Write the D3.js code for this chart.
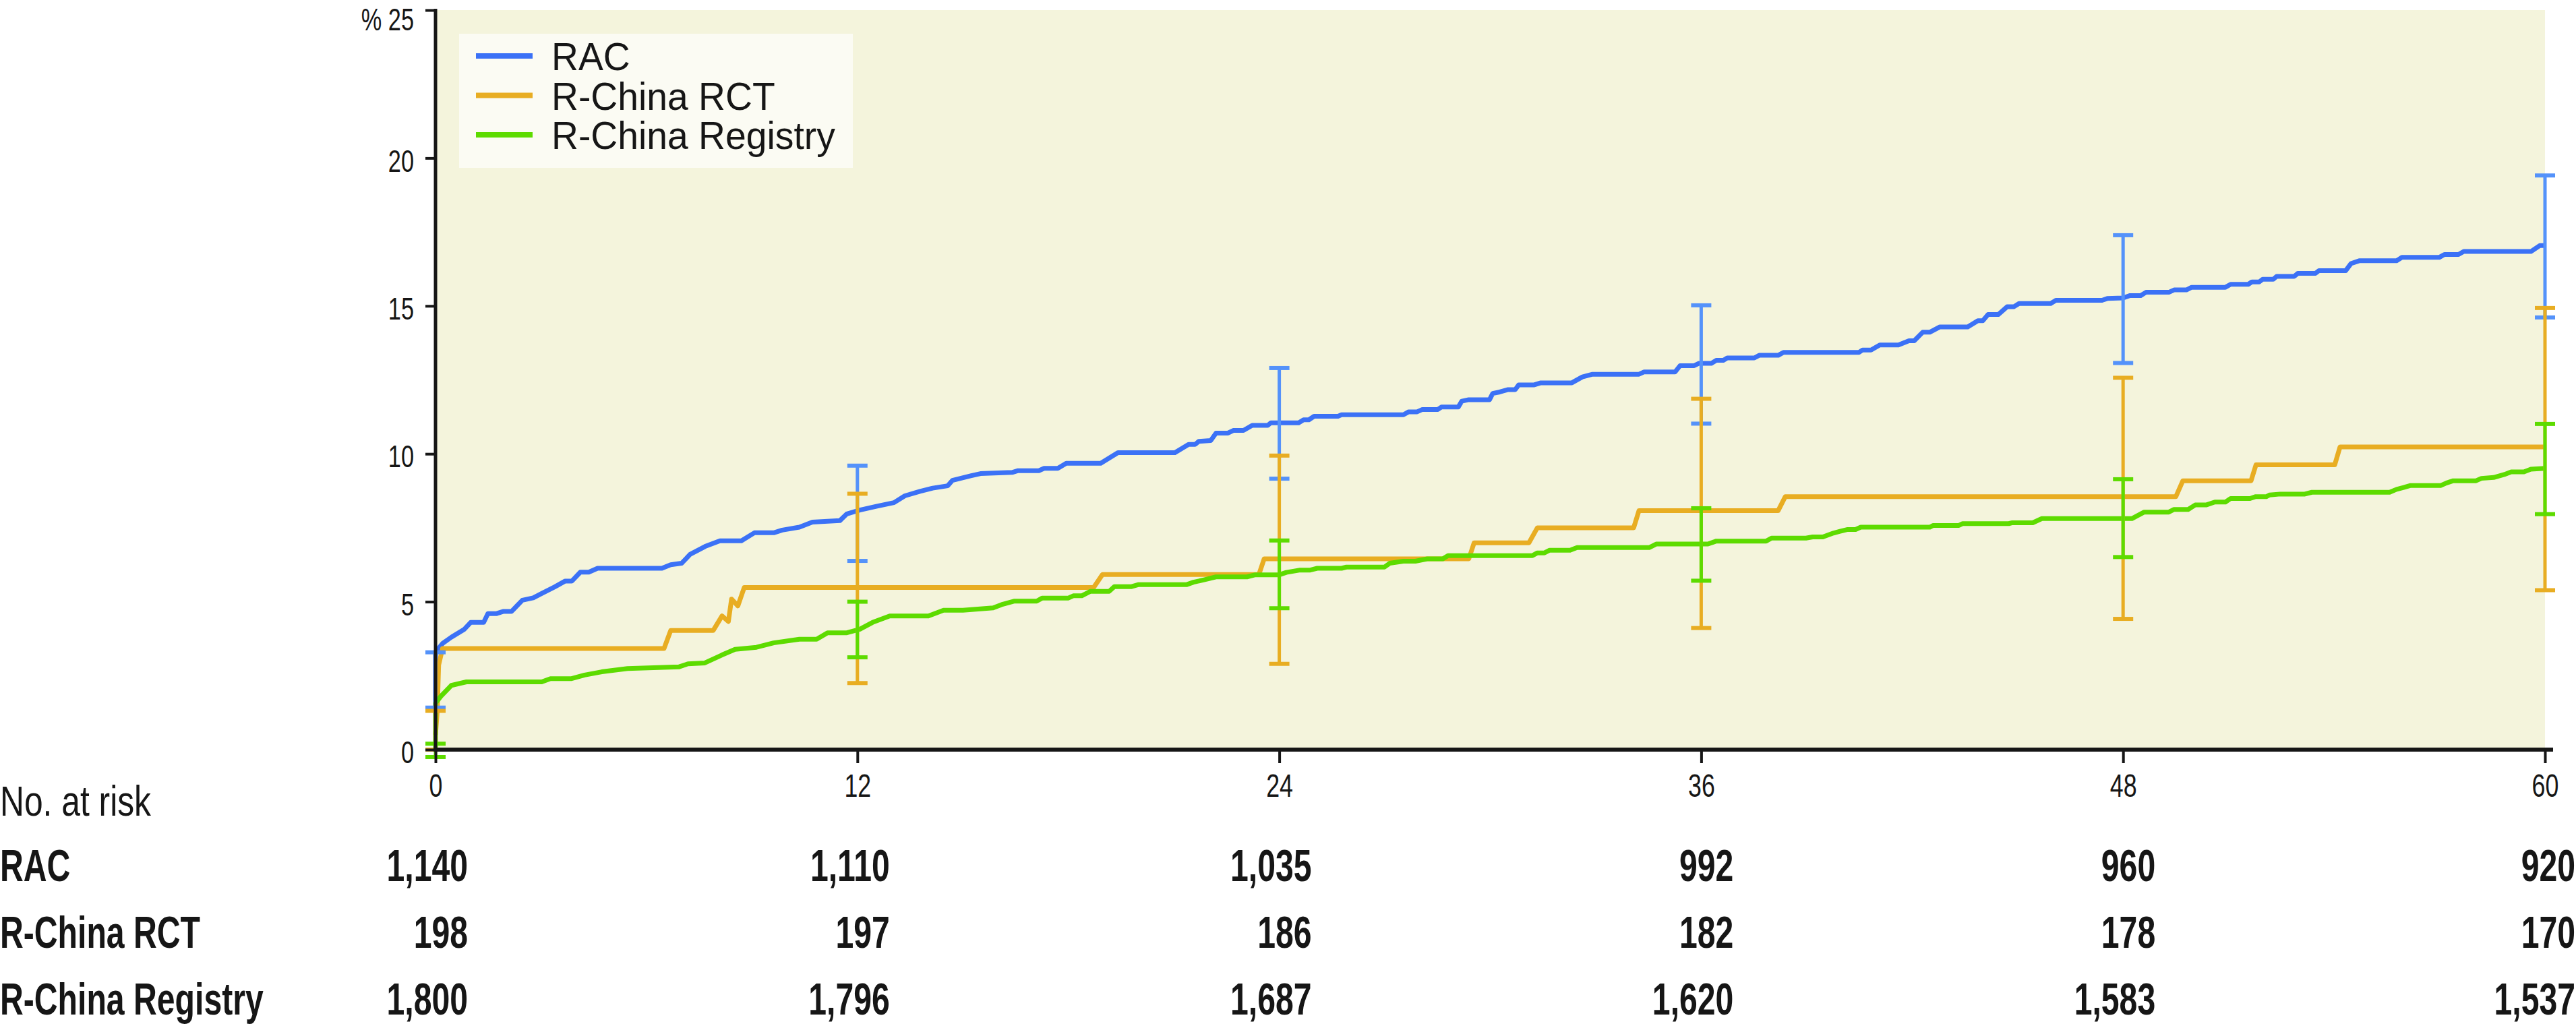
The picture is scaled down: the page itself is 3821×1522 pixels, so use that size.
<!DOCTYPE html>
<html><head><meta charset="utf-8">
<script src="https://cdn.jsdelivr.net/npm/d3@7"></script>
<style>
body{margin:0;background:#fff}
svg{display:block}
text{font-family:"Liberation Sans",Arial,sans-serif;fill:#161616}
</style>
</head><body>
<svg id="chart" width="3821" height="1522"></svg>
<script>
// ---------- data ----------
const seriesNames = ["RAC", "R-China RCT", "R-China Registry"];
const xTicks = [0, 12, 24, 36, 48, 60];
const yTicks = [0, 5, 10, 15, 20, 25];

const racT = [0,0,0.21,0.45,0.82,1.0,1.37,1.49,1.74,1.92,2.16,2.47,2.78,3.02,3.39,3.69,3.88,4.12,4.36,4.61,6.44,6.69,7.0,7.24,7.67,8.09,8.7,9.07,9.62,9.86,10.35,10.72,11.5,11.7,12.07,12.56,13.04,13.35,13.78,14.14,14.57,14.7,15.24,15.5,16.4,16.57,17.16,17.31,17.7,17.94,18.92,19.41,21.03,21.42,21.61,21.71,22.05,22.2,22.54,22.69,22.98,23.23,23.67,23.76,24.55,24.69,24.84,24.99,25.67,25.77,27.53,27.68,27.92,28.07,28.51,28.61,29.09,29.19,29.39,29.98,30.07,30.27,30.51,30.71,30.81,31.25,31.44,32.32,32.62,32.91,34.23,34.38,35.26,35.4,35.8,35.94,36.29,36.43,36.63,36.74,37.51,37.65,38.19,38.34,40.49,40.59,40.83,41.08,41.61,41.91,42.06,42.3,42.5,42.79,43.58,43.87,44.01,44.16,44.45,44.7,44.89,45.04,45.94,46.09,47.4,47.55,48.0,48.2,48.5,48.65,49.3,49.45,49.8,49.95,50.91,51.06,51.56,51.66,51.87,51.97,52.27,52.37,52.87,52.97,53.47,53.57,54.33,54.48,54.73,55.78,55.93,56.99,57.14,57.54,57.69,59.6,59.85,60];
const racV = [1.42,3.3,3.6,3.8,4.07,4.3,4.3,4.6,4.6,4.67,4.67,5.05,5.13,5.28,5.5,5.7,5.7,6.0,6.0,6.13,6.13,6.25,6.3,6.6,6.87,7.06,7.06,7.33,7.33,7.42,7.52,7.69,7.74,7.97,8.1,8.23,8.35,8.58,8.73,8.84,8.92,9.1,9.26,9.33,9.37,9.43,9.43,9.51,9.51,9.68,9.68,10.04,10.04,10.32,10.32,10.42,10.45,10.7,10.7,10.79,10.79,10.96,10.96,11.05,11.05,11.15,11.15,11.27,11.27,11.32,11.32,11.42,11.42,11.5,11.5,11.58,11.58,11.78,11.83,11.83,12.04,12.09,12.17,12.17,12.33,12.33,12.4,12.4,12.6,12.69,12.69,12.77,12.77,12.98,12.98,13.06,13.06,13.16,13.16,13.24,13.24,13.33,13.33,13.43,13.43,13.51,13.51,13.68,13.68,13.82,13.82,14.11,14.11,14.29,14.29,14.5,14.5,14.71,14.71,14.97,14.97,15.08,15.08,15.19,15.19,15.25,15.27,15.35,15.35,15.46,15.46,15.54,15.54,15.63,15.63,15.73,15.73,15.81,15.81,15.9,15.9,16.0,16.0,16.1,16.1,16.19,16.19,16.43,16.53,16.53,16.64,16.64,16.74,16.74,16.84,16.84,17.04,17.04];

const rctT = [0,0.05,0.09,0.2,6.5,6.69,7.9,8.15,8.33,8.42,8.6,8.78,18.72,18.97,23.42,23.57,29.39,29.54,31.1,31.34,34.08,34.23,38.19,38.39,49.5,49.7,51.64,51.78,54.02,54.17,60];
const rctV = [0.5,1.3,2.86,3.42,3.42,4.03,4.03,4.52,4.33,5.09,4.86,5.48,5.48,5.92,5.92,6.45,6.45,6.99,6.99,7.5,7.5,8.08,8.08,8.55,8.55,9.09,9.09,9.63,9.63,10.23,10.23];

const regT = [0,0,0.15,0.45,0.88,3.02,3.27,3.87,4.24,4.73,5.46,6.93,7.18,7.66,8.15,8.52,9.13,9.62,10.35,10.84,11.15,11.7,12.07,12.43,12.92,14.02,14.45,15.0,15.86,16.1,16.47,17.1,17.25,17.99,18.14,18.38,18.63,19.16,19.31,19.8,20.0,21.37,21.56,21.86,22.2,23.08,23.32,24.0,24.2,24.59,24.88,25.08,25.77,25.91,26.99,27.14,27.53,27.87,28.21,28.65,28.8,31.2,31.34,31.54,31.69,32.27,32.47,34.52,34.72,36.19,36.43,37.85,38.0,38.98,39.17,39.46,39.76,39.95,40.15,40.39,40.54,42.5,42.6,43.33,43.43,44.75,44.85,45.43,45.69,48.25,48.6,49.3,49.45,49.85,50.05,50.36,50.61,50.91,51.06,51.61,51.76,52.07,52.17,52.47,53.17,53.37,55.58,55.78,55.98,56.18,57.04,57.19,57.39,58.04,58.19,58.54,58.84,59.04,59.4,59.6,60];
const regV = [0,1.57,1.8,2.17,2.29,2.29,2.4,2.4,2.52,2.63,2.74,2.8,2.9,2.93,3.2,3.39,3.46,3.61,3.73,3.73,3.95,3.95,4.07,4.3,4.52,4.52,4.71,4.71,4.79,4.9,5.02,5.02,5.12,5.12,5.2,5.2,5.35,5.35,5.51,5.51,5.58,5.58,5.66,5.74,5.84,5.84,5.91,5.91,5.99,6.07,6.07,6.13,6.13,6.17,6.17,6.3,6.37,6.37,6.45,6.45,6.56,6.56,6.65,6.65,6.74,6.74,6.83,6.83,6.95,6.95,7.05,7.05,7.15,7.15,7.19,7.19,7.32,7.38,7.44,7.44,7.52,7.52,7.58,7.58,7.64,7.64,7.67,7.67,7.81,7.81,8.03,8.03,8.12,8.12,8.27,8.27,8.37,8.37,8.49,8.49,8.55,8.55,8.61,8.64,8.64,8.7,8.7,8.8,8.86,8.93,8.93,9.01,9.09,9.09,9.17,9.2,9.3,9.39,9.39,9.48,9.51];

const ciTimes = [0, 12, 24, 36, 48, 60];
const racLo = [1.42, 6.38, 9.16, 11.02, 13.07, 14.61];
const racHi = [3.29, 9.6, 12.9, 15.02, 17.39, 19.41];
const rctLo = [0, 2.25, 2.9, 4.11, 4.42, 5.39];
const rctHi = [1.31, 8.65, 9.94, 11.86, 12.57, 14.93];
const regLo = [-0.25, 3.12, 4.78, 5.71, 6.51, 7.96];
const regHi = [0.2, 5.0, 7.07, 8.16, 9.14, 11.01];

const riskTitle = "No. at risk";
const riskRAC = [1140, 1110, 1035, 992, 960, 920];
const riskRCT = [198, 197, 186, 182, 178, 170];
const riskReg = [1800, 1796, 1687, 1620, 1583, 1537];

// ---------- drawing ----------
const lineColors = ["#3b71f6", "#e8ad22", "#5ddb00"];
const barColors  = ["#5492fa", "#e8ad22", "#5ddb00"];
const ink = "#161616";

const svg = d3.select("#chart");
const x = d3.scaleLinear().domain([0, 60]).range([646, 3775]);
const y = d3.scaleLinear().domain([0, 25]).range([1112, 15]);

// plot background
svg.append("rect")
  .attr("x", x(0)).attr("y", y(25))
  .attr("width", x(60) - x(0)).attr("height", y(0) - y(25))
  .attr("fill", "#f4f4dc");

function sText(g, px, py, str, size, weight, sx, anchor) {
  return g.append("text")
    .attr("transform", `translate(${px},${py}) scale(${sx},1)`)
    .attr("text-anchor", anchor)
    .style("font-size", size + "px")
    .style("font-weight", weight)
    .text(str);
}

// legend
const leg = svg.append("g");
leg.append("rect").attr("x", 681).attr("y", 50).attr("width", 584).attr("height", 199).attr("fill", "#fbfbf3");
seriesNames.forEach((name, i) => {
  const ly = 83 + i * 58.5;
  leg.append("line").attr("x1", 706).attr("x2", 790).attr("y1", ly).attr("y2", ly)
    .attr("stroke", lineColors[i]).attr("stroke-width", 8);
  sText(leg, 818, ly + 21, name, 57, 400, 0.97, "start");
});

// curves
const line = d3.line().x(d => x(d[0])).y(d => y(d[1]));
const curves = [
  d3.zip(racT, racV),
  d3.zip(rctT, rctV),
  d3.zip(regT, regV)
];
curves.forEach((pts, i) => {
  svg.append("path").datum(pts)
    .attr("d", line)
    .attr("fill", "none")
    .attr("stroke", lineColors[i])
    .attr("stroke-width", 7)
    .attr("stroke-linejoin", "round");
});

// error bars
const bars = [[racLo, racHi], [rctLo, rctHi], [regLo, regHi]];
bars.forEach(([lo, hi], i) => {
  const g = svg.append("g").attr("stroke", barColors[i]);
  ciTimes.forEach((t, k) => {
    g.append("line").attr("x1", x(t)).attr("x2", x(t)).attr("y1", y(lo[k])).attr("y2", y(hi[k])).attr("stroke-width", 5);
    [lo[k], hi[k]].forEach(v => {
      g.append("line").attr("x1", x(t) - 15).attr("x2", x(t) + 15).attr("y1", y(v)).attr("y2", y(v)).attr("stroke-width", 6);
    });
  });
});

// axes
const tickSx = 0.73;
const gx = svg.append("g").attr("transform", `translate(0,${y(0)})`)
  .call(d3.axisBottom(x).tickValues(xTicks).tickSize(20).tickPadding(15).tickSizeOuter(0));
gx.select(".domain").remove();
gx.selectAll(".tick line").attr("stroke", ink).attr("stroke-width", 4);
gx.selectAll(".tick text")
  .attr("transform", `scale(${tickSx},1)`)
  .style("font-size", "49px").style("font-family", '"Liberation Sans",Arial,sans-serif')
  .attr("fill", ink);

const gy = svg.append("g").attr("transform", `translate(${x(0)},0)`)
  .call(d3.axisLeft(y).tickValues(yTicks).tickSize(15).tickPadding(17).tickSizeOuter(0)
    .tickFormat(d => d === 25 ? "%\u00a025" : d));
gy.select(".domain").remove();
gy.selectAll(".tick line").attr("stroke", ink).attr("stroke-width", 4);
gy.selectAll(".tick text")
  .attr("x", -32 / tickSx).attr("dy", d => d === 25 ? "0.62em" : "0.42em")
  .attr("transform", `scale(${tickSx},1)`)
  .style("font-size", "47px").style("font-family", '"Liberation Sans",Arial,sans-serif')
  .attr("fill", ink);

// axis lines
svg.append("line").attr("x1", x(0)).attr("x2", x(0)).attr("y1", y(25) - 2).attr("y2", y(0) + 3)
  .attr("stroke", ink).attr("stroke-width", 5);
svg.append("line").attr("x1", x(0) - 3).attr("x2", x(60) + 12).attr("y1", y(0)).attr("y2", y(0))
  .attr("stroke", ink).attr("stroke-width", 6);

// number at risk table
const tbl = svg.append("g");
sText(tbl, 0, 1210, riskTitle, 63, 400, 0.79, "start");
const rows = [riskRAC, riskRCT, riskReg];
const fmt = d3.format(",");
rows.forEach((vals, r) => {
  const by = 1307 + r * 99;
  sText(tbl, 0, by, seriesNames[r], 66, 700, 0.73, "start");
  vals.forEach((v, k) => {
    sText(tbl, Math.min(x(xTicks[k]) + 48, 3820), by, fmt(v), 66, 700, 0.73, "end");
  });
});
</script>
</body></html>
